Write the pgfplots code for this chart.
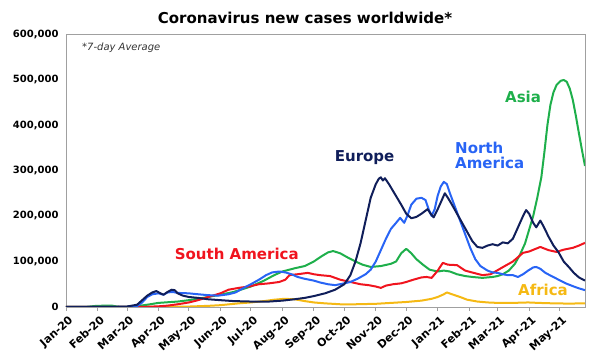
\documentclass[border=0pt]{standalone}
\usepackage{pgfplots}
\pgfplotsset{compat=1.18}
\usepackage{fontspec}
\setmainfont{DejaVu Sans}
\definecolor{eunavy}{RGB}{16,30,90}
\definecolor{nablue}{RGB}{40,100,245}
\definecolor{asgreen}{RGB}{30,175,75}
\definecolor{sared}{RGB}{240,20,30}
\definecolor{afyellow}{RGB}{245,185,20}
\definecolor{framegray}{RGB}{160,160,160}
\begin{document}
\begin{tikzpicture}
\path[use as bounding box] (-66pt,-48pt) rectangle (528pt,307pt);
\begin{axis}[
  at={(0,0)}, anchor=south west,
  scale only axis, width=519pt, height=273pt,
  xmin=0, xmax=511, ymin=0, ymax=600000,
  axis line style={framegray, line width=0.8pt},
  xtick={0,31,60,91,121,152,182,213,244,274,305,335,366,397,425,456,486},
  xticklabels={Jan-20,Feb-20,Mar-20,Apr-20,May-20,Jun-20,Jul-20,Aug-20,Sep-20,Oct-20,Nov-20,Dec-20,Jan-21,Feb-21,Mar-21,Apr-21,May-21},
  xticklabel style={rotate=42, anchor=north east, font=\fontsize{11}{13}\selectfont\bfseries, inner sep=1pt, yshift=-3pt},
  xtick style={framegray, line width=0.8pt},
  tick align=outside, major tick length=4pt,
  xtick pos=bottom,
  ytick={0,100000,200000,300000,400000,500000,600000},
  yticklabels={0,{100,000},{200,000},{300,000},{400,000},{500,000},{600,000}},
  ytick style={draw=none},
  yticklabel style={font=\fontsize{10}{12}\selectfont\bfseries},
  scaled y ticks=false,
  every axis plot/.append style={line width=2pt, no marks, line join=round},
  clip=true,
]
% Africa
\addplot[afyellow] coordinates {
(0,0) (90,0) (121,1000) (140,2500) (152,4000) (170,8000) (182,10000) (195,13000)
(205,16000) (215,18000) (225,17000) (235,13000) (244,10000) (255,8000) (270,6000)
(285,6000) (305,7000) (320,9000) (335,11000) (350,14000) (360,18000) (366,22000)
(372,28000) (375,32000) (380,28000) (388,22000) (395,16000) (405,12000) (415,10000)
(425,9000) (440,9000) (455,10000) (465,9000) (480,8000) (495,7500) (511,8000)};
% Asia
\addplot[asgreen] coordinates {
(0,0) (20,300) (30,2500) (40,3000) (45,3000) (52,500) (60,500) (70,2000) (80,5000)
(91,9000) (110,12000) (121,15000) (135,20000) (152,27000) (165,33000) (182,45000)
(195,58000) (205,70000) (213,78000) (225,85000) (235,90000) (244,100000) (252,112000)
(258,120000) (263,123000) (270,118000) (278,108000) (285,100000) (292,93000)
(300,88000) (310,90000) (320,95000) (325,100000) (330,118000) (335,128000)
(340,118000) (345,105000) (352,92000) (358,82000) (366,78000) (372,80000)
(378,78000) (385,72000) (393,68000) (400,66000) (410,64000) (420,66000) (425,68000)
(430,72000) (436,80000) (442,95000) (447,115000) (452,140000) (456,170000)
(460,200000) (464,240000) (468,285000) (471,340000) (474,400000) (477,445000)
(480,472000) (483,488000) (487,497000) (490,499000) (493,495000) (496,480000)
(499,455000) (502,420000) (505,382000) (508,345000) (511,310000)};
% South America
\addplot[sared] coordinates {
(0,0) (70,0) (80,500) (91,1500) (100,3000) (110,6000) (121,10000) (130,15000)
(140,22000) (152,30000) (160,38000) (170,42000) (180,45000) (190,50000) (200,52000)
(210,55000) (216,60000) (220,70000) (228,72000) (238,75000) (244,72000) (250,70000)
(260,68000) (270,60000) (280,55000) (290,50000) (298,48000) (305,45000) (310,42000)
(315,47000) (322,50000) (330,52000) (335,55000) (342,60000) (350,65000) (355,66000)
(360,64000) (366,80000) (371,97000) (376,93000) (385,92000) (393,80000) (398,77000)
(410,70000) (418,72000) (425,81000) (432,90000) (440,100000) (450,119000)
(456,122000) (467,132000) (475,125000) (483,121000) (490,126000) (499,130000)
(505,135000) (511,141000)};
% North America
\addplot[nablue] coordinates {
(0,0) (60,300) (70,2000) (75,10000) (80,22000) (85,28000) (91,30000) (96,27000)
(100,32000) (105,33000) (110,31000) (121,30000) (130,28000) (140,26000) (150,25000)
(160,28000) (167,32000) (175,42000) (182,50000) (190,60000) (197,70000) (203,76000)
(210,78000) (216,76000) (222,72000) (228,66000) (235,62000) (244,58000) (250,54000)
(258,50000) (265,48000) (274,52000) (280,55000) (287,62000) (295,72000) (300,82000)
(305,100000) (310,125000) (315,150000) (320,172000) (325,185000) (329,196000)
(333,185000) (336,200000) (340,225000) (345,238000) (350,240000) (354,235000)
(357,215000) (360,200000) (363,215000) (366,245000) (369,265000) (372,275000)
(375,270000) (378,250000) (383,220000) (388,190000) (393,160000) (398,130000)
(403,105000) (408,90000) (415,80000) (420,76000) (425,75000) (430,72000)
(435,70000) (440,70000) (445,66000) (450,72000) (455,80000) (460,87000)
(463,88000) (467,84000) (472,75000) (478,68000) (485,60000) (492,52000)
(500,45000) (505,41000) (511,37000)};
% Europe
\addplot[eunavy] coordinates {
(0,0) (50,500) (60,1000) (70,5000) (75,15000) (80,25000) (85,32000) (89,35000)
(93,30000) (96,27000) (100,33000) (104,38000) (107,37000) (110,30000) (115,25000)
(121,22000) (130,20000) (140,17000) (152,15000) (165,13000) (182,12000) (200,12000)
(213,14000) (225,17000) (235,20000) (244,24000) (255,30000) (265,38000) (274,50000)
(280,70000) (285,100000) (290,140000) (295,190000) (300,240000) (305,270000)
(308,282000) (310,285000) (312,278000) (314,283000) (318,270000) (322,255000)
(326,240000) (330,225000) (335,205000) (340,195000) (345,198000) (350,205000)
(356,215000) (359,205000) (362,197000) (366,215000) (370,235000) (373,250000)
(376,240000) (380,225000) (385,205000) (390,185000) (395,165000) (400,145000)
(405,132000) (410,130000) (415,135000) (420,138000) (425,135000) (430,142000)
(435,140000) (440,150000) (445,175000) (450,200000) (453,213000) (456,205000)
(460,185000) (463,175000) (467,190000) (470,178000) (475,155000) (480,135000)
(485,120000) (490,100000) (495,88000) (500,75000) (505,65000) (511,58000)};
% labels
\node[font=\fontsize{15}{17}\selectfont\bfseries, text=asgreen] at (axis cs:450,461600) {Asia};
\node[font=\fontsize{15}{17}\selectfont\bfseries, text=eunavy] at (axis cs:294,327500) {Europe};
\node[font=\fontsize{15}{17}\selectfont\bfseries, text=nablue, anchor=west, inner sep=0pt] at (axis cs:383,349000) {North};
\node[font=\fontsize{15}{17}\selectfont\bfseries, text=nablue, anchor=west, inner sep=0pt] at (axis cs:383,316000) {America};
\node[font=\fontsize{15}{17}\selectfont\bfseries, text=sared, anchor=west, inner sep=0pt] at (axis cs:107,116500) {South America};
\node[font=\fontsize{15}{17}\selectfont\bfseries, text=afyellow, anchor=west, inner sep=0pt] at (axis cs:445,37400) {Africa};
\node[font=\fontsize{10}{12}\selectfont\itshape, text=black!80, anchor=west, inner sep=0pt] at ([yshift=-14pt]rel axis cs:0.0308,1) {*7-day Average};
\end{axis}
\node[font=\fontsize{15}{17}\selectfont\bfseries] at (239pt,289pt) {Coronavirus new cases worldwide*};
\end{tikzpicture}
\end{document}
